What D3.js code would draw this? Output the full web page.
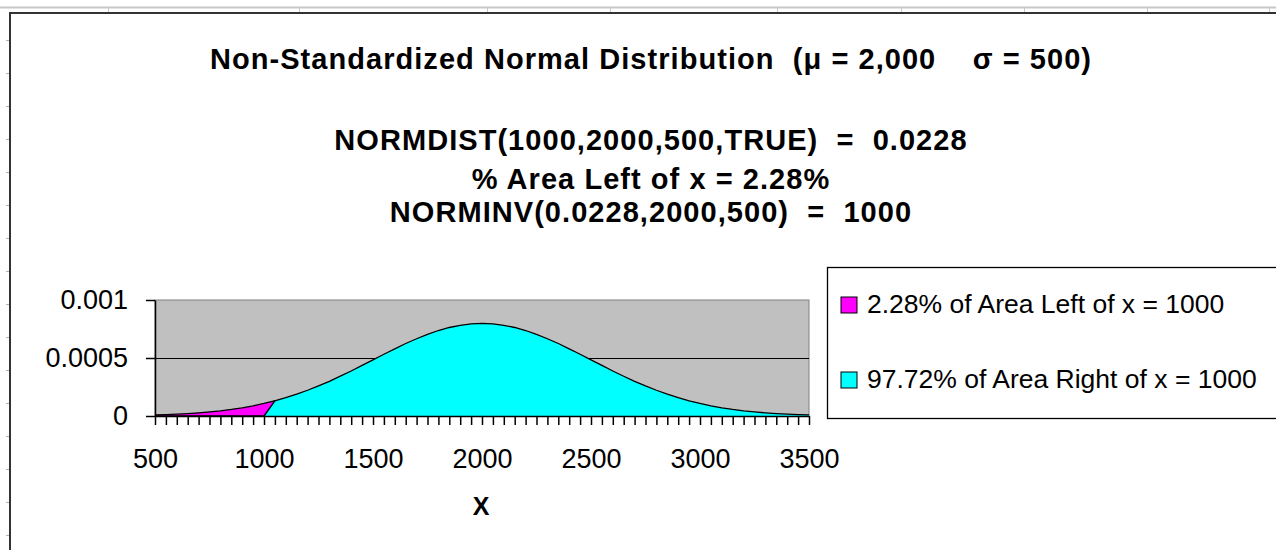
<!DOCTYPE html>
<html>
<head>
<meta charset="utf-8">
<script src="https://cdn.jsdelivr.net/npm/d3@7"></script>
<style>
  body { margin: 0; background: #fff; }
  svg text { font-family: "Liberation Sans", Arial, sans-serif; fill: #000; white-space: pre; }
</style>
</head>
<body>
<div id="chart"></div>
<script>
var W = 1276, H = 550;

// categories (x) every 50 from 500 to 3500
var xValues = [500, 550, 600, 650, 700, 750, 800, 850, 900, 950,
  1000, 1050, 1100, 1150, 1200, 1250, 1300, 1350, 1400, 1450,
  1500, 1550, 1600, 1650, 1700, 1750, 1800, 1850, 1900, 1950,
  2000, 2050, 2100, 2150, 2200, 2250, 2300, 2350, 2400, 2450,
  2500, 2550, 2600, 2650, 2700, 2750, 2800, 2850, 2900, 2950,
  3000, 3050, 3100, 3150, 3200, 3250, 3300, 3350, 3400, 3450, 3500];

// area left of x = 1000 (magenta)
var leftArea = [0.0000089, 0.0000119, 0.0000158, 0.0000208, 0.0000272, 0.0000351, 0.0000448, 0.0000567, 0.0000709, 0.0000880,
  0.000108, 0.000131, 0, 0, 0, 0, 0, 0, 0, 0,
  0, 0, 0, 0, 0, 0, 0, 0, 0, 0,
  0, 0, 0, 0, 0, 0, 0, 0, 0, 0,
  0, 0, 0, 0, 0, 0, 0, 0, 0, 0,
  0, 0, 0, 0, 0, 0, 0, 0, 0, 0, 0];

// area right of x = 1000 (cyan)
var rightArea = [0, 0, 0, 0, 0, 0, 0, 0, 0, 0,
  0, 0.000131, 0.000158, 0.000188, 0.000222, 0.000259, 0.000299, 0.000343, 0.000388, 0.000436,
  0.000484, 0.000532, 0.000579, 0.000625, 0.000666, 0.000704, 0.000737, 0.000763, 0.000782, 0.000794,
  0.000798, 0.000794, 0.000782, 0.000763, 0.000737, 0.000704, 0.000666, 0.000625, 0.000579, 0.000532,
  0.000484, 0.000436, 0.000388, 0.000343, 0.000299, 0.000259, 0.000222, 0.000188, 0.000158, 0.000131,
  0.000108, 0.0000880, 0.0000709, 0.0000567, 0.0000448, 0.0000351, 0.0000272, 0.0000208, 0.0000158, 0.0000119, 0.0000089];

var xLabels = [500, 1000, 1500, 2000, 2500, 3000, 3500];
var yTicks = [0, 0.0005, 0.001];
var yLabels = ["0", "0.0005", "0.001"];

var seriesNames = ["2.28% of Area Left of x = 1000", "97.72% of Area Right of x = 1000"];
var seriesColors = ["#ff00ff", "#00ffff"];

var titleLines = [
  "Non-Standardized Normal Distribution  (\u03bc = 2,000    \u03c3 = 500)",
  "NORMDIST(1000,2000,500,TRUE)  =  0.0228",
  "% Area Left of x = 2.28%",
  "NORMINV(0.0228,2000,500)  =  1000"
];

// spreadsheet grid bits round the chart object
var colMarks = [108, 299, 487, 610, 777, 901, 1024, 1147, 1269];
var rowMarks = [40, 73, 106, 139, 172, 205, 238, 271, 304, 337, 370, 403, 436, 469, 502, 535];

var svg = d3.select("#chart").append("svg")
    .attr("width", W)
    .attr("height", H);

svg.append("rect").attr("width", W).attr("height", H).attr("fill", "#fff");

svg.append("line")
    .attr("x1", 0).attr("x2", W).attr("y1", 7.5).attr("y2", 7.5)
    .attr("stroke", "#c8c8c8").attr("stroke-width", 2);
svg.selectAll(".col").data(colMarks).enter().append("line")
    .attr("x1", function(d) { return d + 0.5; }).attr("x2", function(d) { return d + 0.5; })
    .attr("y1", 7).attr("y2", 12)
    .attr("stroke", "#c8c8c8");
svg.selectAll(".row").data(rowMarks).enter().append("line")
    .attr("x1", 6).attr("x2", 9)
    .attr("y1", function(d) { return d + 0.5; }).attr("y2", function(d) { return d + 0.5; })
    .attr("stroke", "#b0b0b0");

// chart object frame
svg.append("rect")
    .attr("x", 10).attr("y", 13).attr("width", W + 20).attr("height", H + 20)
    .attr("fill", "#fff").attr("stroke", "#333").attr("stroke-width", 2);

// titles
var titleY = [69, 150, 189, 222];
svg.selectAll(".title").data(titleLines).enter().append("text")
    .attr("class", "title")
    .attr("x", 651)
    .attr("y", function(d, i) { return titleY[i]; })
    .attr("text-anchor", "middle")
    .style("font-size", "29px")
    .style("letter-spacing", "1.05px")
    .style("font-weight", "bold")
    .text(function(d) { return d; });

var m = [300, 0, 0, 155]; // top right bottom left of plot
var pw = 654, ph = 116;

var x = d3.scaleLinear().domain([500, 3500]).range([0, pw]);
var y = d3.scaleLinear().domain([0, 0.001]).range([ph, 0]);

var plot = svg.append("g").attr("transform", "translate(" + m[3] + "," + m[0] + ")");

plot.append("rect")
    .attr("width", pw).attr("height", ph)
    .attr("fill", "#c0c0c0").attr("stroke", "#808080");

plot.append("line")
    .attr("x1", 0).attr("x2", pw)
    .attr("y1", Math.round(y(0.0005)) + 0.5).attr("y2", Math.round(y(0.0005)) + 0.5)
    .attr("stroke", "#000");

var area = d3.area()
    .x(function(d, i) { return x(xValues[i]); })
    .y0(y(0))
    .y1(function(d) { return y(d); });
var line = d3.line()
    .x(function(d, i) { return x(xValues[i]); })
    .y(function(d) { return y(d); });

[leftArea, rightArea].forEach(function(s, k) {
  plot.append("path").datum(s)
      .attr("d", area)
      .attr("fill", seriesColors[k]);
  plot.append("path").datum(s)
      .attr("d", line)
      .attr("fill", "none")
      .attr("stroke", "#000")
      .attr("stroke-width", 1.3);
});

var xAxis = d3.axisBottom(x)
    .tickValues(xValues)
    .tickSize(9)
    .tickSizeOuter(0)
    .tickPadding(24)
    .tickFormat(function(d) { return xLabels.indexOf(d) >= 0 ? d : ""; });

var gx = plot.append("g")
    .attr("transform", "translate(0," + ph + ")")
    .call(xAxis);
gx.selectAll("path, line").attr("stroke", "#000").attr("stroke-width", 1.5);
gx.selectAll("text").style("font-size", "27px").attr("fill", "#000")
    .style("font-family", "'Liberation Sans', Arial, sans-serif");

var yAxis = d3.axisLeft(y)
    .tickValues(yTicks)
    .tickSize(9)
    .tickSizeOuter(0)
    .tickPadding(18)
    .tickFormat(function(d, i) { return yLabels[i]; });

var gy = plot.append("g").call(yAxis);
gy.selectAll("path, line").attr("stroke", "#000").attr("stroke-width", 1.5);
gy.selectAll("text").style("font-size", "27px").attr("fill", "#000")
    .style("font-family", "'Liberation Sans', Arial, sans-serif");

svg.append("text")
    .attr("x", 481).attr("y", 515)
    .attr("text-anchor", "middle")
    .style("font-size", "25px")
    .style("font-weight", "bold")
    .text("X");

// legend
var legend = svg.append("g").attr("transform", "translate(827,267)");
legend.append("rect")
    .attr("x", 0.5).attr("y", 0.5).attr("width", 480).attr("height", 151)
    .attr("fill", "#fff").attr("stroke", "#000").attr("stroke-width", 1.3);

var item = legend.selectAll(".item").data(seriesNames).enter().append("g")
    .attr("transform", function(d, i) { return "translate(14," + (30 + i * 75) + ")"; });
item.append("rect")
    .attr("width", 16).attr("height", 16)
    .attr("fill", function(d, i) { return seriesColors[i]; })
    .attr("stroke", "#000");
item.append("text")
    .attr("x", 26).attr("y", 16)
    .style("font-size", "26.5px")
    .text(function(d) { return d; });
</script>
</body>
</html>
